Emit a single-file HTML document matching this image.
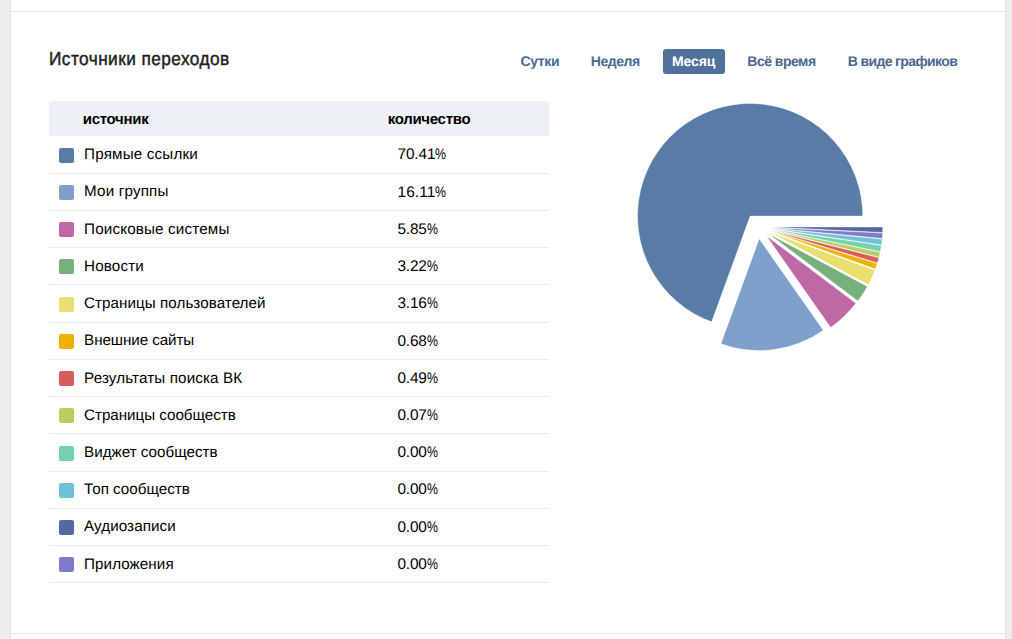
<!DOCTYPE html>
<html><head><meta charset="utf-8">
<style>
*{margin:0;padding:0;box-sizing:border-box}
html,body{width:1012px;height:639px;overflow:hidden;background:#edeef0;font-family:"Liberation Sans",sans-serif;text-rendering:geometricPrecision}
body{position:relative}
.panel{position:absolute;left:10px;top:0;width:996px;height:639px;background:#fff;border-left:1px solid #e3e4e8;border-right:1px solid #e3e4e8}
.hl{position:absolute;left:11px;width:994px;height:1px;background:#e6e7e9}
.t{position:absolute;white-space:nowrap;line-height:1}
.title{left:48.5px;top:50px;font-size:18.75px;color:#222;-webkit-text-stroke:0.45px #222;letter-spacing:0.48px;transform:scaleX(0.92);transform-origin:0 0}
.tab{top:54px;font-size:14.0px;font-weight:bold;color:#4b688f;letter-spacing:-0.4px}
.btn{position:absolute;left:663px;top:49px;width:62px;height:25px;background:#50719b;border-radius:3px}
.hdr{position:absolute;left:49px;top:101px;width:500px;height:35px;background:#edf0f5}
.th{font-size:15.0px;font-weight:bold;color:#000;top:112px;letter-spacing:-0.3px}
.sep{position:absolute;left:49px;width:500px;height:1px;background:#eaebed}
.sq{position:absolute;left:59px;width:15px;height:15px;border-radius:2px}
.lb{left:84.1px;font-size:15.2px;color:#000;letter-spacing:0.13px}
.pct{display:inline-block;transform:scaleX(0.8);transform-origin:0 0}
.pc{left:397.5px;font-size:15.4px;color:#000;letter-spacing:-0.2px}
svg{position:absolute;left:0;top:0}
</style></head><body>
<div class="panel"></div>
<div class="hl" style="top:11px"></div>
<div class="hl" style="top:633px"></div>
<div class="t title">Источники переходов</div>
<div class="btn"></div>
<div class="t tab" style="left:520.5px;letter-spacing:-0.37px">Сутки</div>
<div class="t tab" style="left:590.7px;letter-spacing:-0.42px">Неделя</div>
<div class="t tab" style="left:672px;color:#fff;letter-spacing:-0.13px">Месяц</div>
<div class="t tab" style="left:747.3px;letter-spacing:-0.51px">Всё время</div>
<div class="t tab" style="left:847.7px;letter-spacing:-0.62px">В виде графиков</div>
<div class="hdr"></div>
<div class="t th" style="left:82.8px">источник</div>
<div class="t th" style="left:387.7px">количество</div>
<div class="sq" style="top:148px;background:#587ca6"></div>
<div class="t lb" style="top:147px;letter-spacing:0.177px">Прямые ссылки</div>
<div class="t pc" style="top:147px;letter-spacing:-0.130px">70.41<span class="pct">%</span></div>
<div class="sep" style="top:173px"></div>
<div class="sq" style="top:185px;background:#80a0cc"></div>
<div class="t lb" style="top:184px;letter-spacing:0.168px">Мои группы</div>
<div class="t pc" style="top:185px;letter-spacing:0.100px">16.11<span class="pct">%</span></div>
<div class="sep" style="top:210px"></div>
<div class="sq" style="top:222px;background:#be68a5"></div>
<div class="t lb" style="top:222px;letter-spacing:0.164px">Поисковые системы</div>
<div class="t pc" style="top:222px;letter-spacing:-0.200px">5.85<span class="pct">%</span></div>
<div class="sep" style="top:247px"></div>
<div class="sq" style="top:259px;background:#77b07c"></div>
<div class="t lb" style="top:259px;letter-spacing:0.138px">Новости</div>
<div class="t pc" style="top:259px;letter-spacing:-0.200px">3.22<span class="pct">%</span></div>
<div class="sep" style="top:284px"></div>
<div class="sq" style="top:297px;background:#e8df6e"></div>
<div class="t lb" style="top:296px;letter-spacing:0.048px">Страницы пользователей</div>
<div class="t pc" style="top:296px;letter-spacing:-0.200px">3.16<span class="pct">%</span></div>
<div class="sep" style="top:322px"></div>
<div class="sq" style="top:334px;background:#efb100"></div>
<div class="t lb" style="top:333px;letter-spacing:-0.075px">Внешние сайты</div>
<div class="t pc" style="top:334px;letter-spacing:-0.200px">0.68<span class="pct">%</span></div>
<div class="sep" style="top:359px"></div>
<div class="sq" style="top:371px;background:#da5c58"></div>
<div class="t lb" style="top:371px;letter-spacing:0.128px">Результаты поиска ВК</div>
<div class="t pc" style="top:371px;letter-spacing:-0.200px">0.49<span class="pct">%</span></div>
<div class="sep" style="top:396px"></div>
<div class="sq" style="top:408px;background:#b7cf5e"></div>
<div class="t lb" style="top:408px;letter-spacing:-0.038px">Страницы сообществ</div>
<div class="t pc" style="top:408px;letter-spacing:-0.200px">0.07<span class="pct">%</span></div>
<div class="sep" style="top:433px"></div>
<div class="sq" style="top:446px;background:#76d1b1"></div>
<div class="t lb" style="top:445px;letter-spacing:-0.007px">Виджет сообществ</div>
<div class="t pc" style="top:445px;letter-spacing:-0.200px">0.00<span class="pct">%</span></div>
<div class="sep" style="top:471px"></div>
<div class="sq" style="top:483px;background:#6cc3d7"></div>
<div class="t lb" style="top:482px;letter-spacing:0.000px">Топ сообществ</div>
<div class="t pc" style="top:482px;letter-spacing:-0.200px">0.00<span class="pct">%</span></div>
<div class="sep" style="top:508px"></div>
<div class="sq" style="top:520px;background:#5468a4"></div>
<div class="t lb" style="top:519px;letter-spacing:0.067px">Аудиозаписи</div>
<div class="t pc" style="top:520px;letter-spacing:-0.200px">0.00<span class="pct">%</span></div>
<div class="sep" style="top:545px"></div>
<div class="sq" style="top:557px;background:#807acb"></div>
<div class="t lb" style="top:557px;letter-spacing:0.074px">Приложения</div>
<div class="t pc" style="top:557px;letter-spacing:-0.200px">0.00<span class="pct">%</span></div>
<div class="sep" style="top:582px"></div>

<svg width="1012" height="639" viewBox="0 0 1012 639"><g stroke="#fff" stroke-width="0.35" stroke-linejoin="round"><path d="M770.60,227.02L882.77,227.02A112.17,112.17 0 0 1 882.64,232.48Z" fill="#5468a4"/><path d="M770.57,227.65L882.61,233.11A112.17,112.17 0 0 1 882.21,238.51Z" fill="#807acb"/><path d="M770.50,228.29L882.15,239.16A112.17,112.17 0 0 1 881.44,244.89Z" fill="#6cc3d7"/><path d="M770.40,228.98L881.34,245.58A112.17,112.17 0 0 1 880.26,251.65Z" fill="#76d1b1"/><path d="M770.27,229.61L880.13,252.28A112.17,112.17 0 0 1 879.00,257.19Z" fill="#b7cf5e"/><path d="M770.12,230.20L878.85,257.77A112.17,112.17 0 0 1 877.41,262.94Z" fill="#da5c58"/><path d="M769.93,230.82L877.22,263.56A112.17,112.17 0 0 1 875.37,269.11Z" fill="#efb100"/><path d="M769.47,231.99L874.91,270.29A112.17,112.17 0 0 1 868.42,284.85Z" fill="#e8df6e"/><path d="M768.56,233.70L867.32,286.45A111.97,111.97 0 0 1 857.98,301.08Z" fill="#77b07c"/><path d="M766.63,236.05L855.82,303.26A111.67,111.67 0 0 1 830.68,327.53Z" fill="#be68a5"/><path d="M759.19,238.80L823.30,330.36A111.77,111.77 0 0 1 720.96,343.83Z" fill="#80a0cc"/><path d="M750.14,216.05L711.64,321.84A112.58,112.58 0 1 1 862.72,216.05Z" fill="#587ca6"/></g></svg>
</body></html>
